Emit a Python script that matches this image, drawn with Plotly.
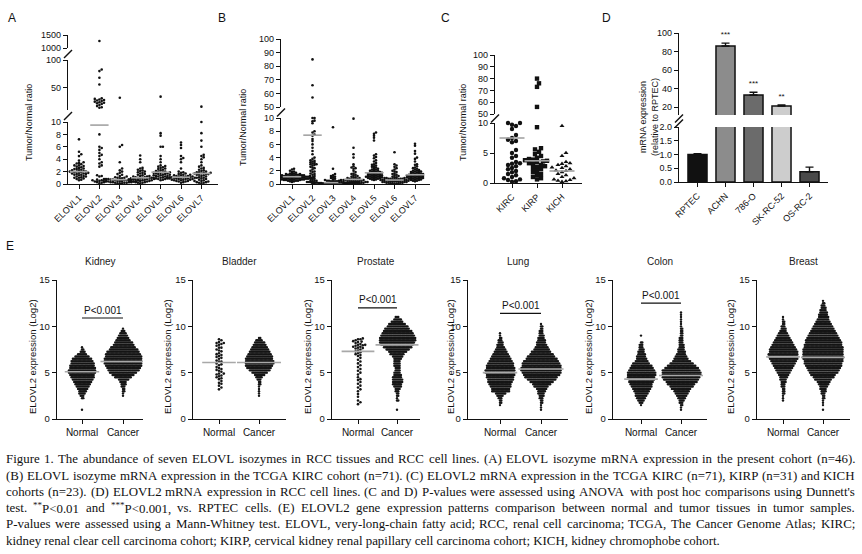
import re
import numpy as np
import plotly.graph_objects as go

W, H = 862, 554
SANS = "Liberation Sans, Arial, Helvetica, sans-serif"
SERIF = "Liberation Serif, Times New Roman, serif"

# ====================== DATA ======================
# ---- Panel A: present cohort (Tumor/Normal ratio) ----
A_CATS = ["ELOVL1", "ELOVL2", "ELOVL3", "ELOVL4", "ELOVL5", "ELOVL6", "ELOVL7"]
A_E1 = [7.2, 5.2, 4.8, 4.5, 3.8, 3.5, 3.4, 3.3, 3.2, 3.0, 3.0, 2.9, 2.8, 2.7, 2.6, 2.5, 2.4, 2.4, 2.3, 2.2,
        2.2, 2.1, 2.0, 2.0, 2.0, 1.9, 1.9, 1.8, 1.8, 1.7, 1.7, 1.6, 1.6, 1.5, 1.5, 1.4, 1.3, 1.2, 1.2, 1.1,
        1.0, 1.0, 0.9, 0.8, 0.7, 0.6]
A_E2 = [1270, 83, 80, 68, 56, 31, 30, 29, 28, 27, 26, 25, 24, 23, 22, 21, 19, 17, 15, 14,
        8.0, 6.0, 5.8, 5.5, 5.0, 4.7, 4.5, 4.0, 3.5, 3.3, 3.0, 2.8, 1.4, 1.3, 1.2, 0.8, 0.7, 0.6, 0.6, 0.5,
        0.5, 0.4, 0.3, 0.3, 0.2, 0.1]
A_E3 = [32, 6.3, 6.0, 3.5, 2.5, 2.2, 2.0, 1.8, 1.6, 1.5, 1.3, 1.2, 1.1, 1.0, 1.0, 0.9, 0.9, 0.8, 0.8, 0.8,
        0.7, 0.7, 0.7, 0.7, 0.6, 0.6, 0.6, 0.6, 0.5, 0.5, 0.5, 0.5, 0.4, 0.4, 0.4, 0.4, 0.3, 0.3, 0.3, 0.3,
        0.2, 0.2, 0.2, 0.1, 0.1, 0.1]
A_E4 = [4.6, 4.0, 3.5, 2.6, 2.5, 2.3, 2.2, 2.1, 2.0, 1.9, 1.8, 1.7, 1.6, 1.5, 1.4, 1.3, 1.3, 1.2, 1.2, 1.1,
        1.1, 1.0, 1.0, 1.0, 0.9, 0.9, 0.9, 0.8, 0.8, 0.8, 0.7, 0.7, 0.7, 0.6, 0.6, 0.6, 0.5, 0.5, 0.5, 0.4,
        0.4, 0.3, 0.3, 0.2, 0.2, 0.1]
A_E5 = [34, 8.2, 7.8, 6.0, 6.0, 4.5, 4.0, 3.5, 3.0, 2.9, 2.8, 2.7, 2.6, 2.5, 2.4, 2.3, 2.2, 2.1, 2.0, 2.0,
        1.9, 1.9, 1.8, 1.8, 1.7, 1.7, 1.6, 1.6, 1.5, 1.5, 1.4, 1.4, 1.3, 1.3, 1.2, 1.2, 1.1, 1.1, 1.0, 1.0,
        0.9, 0.9, 0.8, 0.8, 0.7, 0.6]
A_E6 = [6.7, 6.3, 5.8, 4.5, 4.2, 4.0, 3.5, 2.5, 2.0, 1.9, 1.8, 1.7, 1.6, 1.5, 1.5, 1.4, 1.4, 1.3, 1.3, 1.2,
        1.2, 1.2, 1.1, 1.1, 1.1, 1.0, 1.0, 1.0, 1.0, 0.9, 0.9, 0.9, 0.8, 0.8, 0.8, 0.7, 0.7, 0.7, 0.6, 0.6,
        0.5, 0.5, 0.4, 0.4, 0.3, 0.2]
A_E7 = [16, 10, 8.2, 7.0, 6.0, 4.7, 4.5, 4.3, 4.0, 3.5, 3.0, 2.8, 2.6, 2.5, 2.3, 2.2, 2.1, 2.0, 1.9, 1.9,
        1.8, 1.8, 1.7, 1.7, 1.6, 1.6, 1.5, 1.5, 1.4, 1.3, 1.2, 1.1, 1.0, 1.0, 0.9, 0.8, 0.7, 0.6, 0.5, 0.5,
        0.4, 0.3, 0.3, 0.2, 0.2, 0.1]
A_MED = [2.0, 9.5, 0.7, 1.0, 1.9, 1.1, 1.7]

# ---- Panel B: TCGA KIRC cohort ----
B_CATS = A_CATS
B_E1 = [2.3, 2.2, 2.0, 1.9, 1.8, 1.7, 1.6, 1.6, 1.5, 1.5, 1.5, 1.4, 1.4, 1.4, 1.4, 1.3, 1.3, 1.3, 1.3, 1.3,
        1.2, 1.2, 1.2, 1.2, 1.2, 1.2, 1.1, 1.1, 1.1, 1.1, 1.1, 1.1, 1.1, 1.0, 1.0, 1.0, 1.0, 1.0, 1.0, 1.0,
        1.0, 0.9, 0.9, 0.9, 0.9, 0.9, 0.9, 0.9, 0.9, 0.8, 0.8, 0.8, 0.8, 0.8, 0.8, 0.8, 0.7, 0.7, 0.7, 0.7,
        0.7, 0.6, 0.6, 0.6, 0.6, 0.5, 0.5, 0.5, 0.4, 0.4, 0.3]
B_E2 = [85, 66, 57, 10, 10, 9.6, 9.5, 9.2, 8.0, 7.8, 7.5, 7.3, 6.8, 6.5, 6.0, 5.5, 5.0, 4.5, 4.0, 3.8,
        3.6, 3.5, 3.4, 3.3, 3.2, 3.1, 3.0, 3.0, 2.9, 2.8, 2.6, 2.5, 2.4, 2.2, 2.0, 1.9, 1.8, 1.6, 1.5, 1.4,
        1.2, 1.0, 0.9, 0.8, 0.7, 0.6, 0.5, 0.5, 0.4, 0.3, 0.2, 0.1]
B_E3 = [8.6, 2.3, 1.5, 1.3, 1.2, 1.1, 1.0, 0.9, 0.8, 0.7, 0.6, 0.6, 0.5, 0.5, 0.5, 0.4, 0.4, 0.4, 0.4, 0.3,
        0.3, 0.3, 0.3, 0.3, 0.2, 0.2, 0.2, 0.2, 0.2, 0.2, 0.2, 0.15, 0.15, 0.15, 0.15, 0.1, 0.1, 0.1, 0.1,
        0.1, 0.1, 0.05, 0.05, 0.05, 0.05, 0.05]
B_E4 = [9.9, 5.5, 4.5, 4.0, 3.0, 2.7, 2.5, 2.4, 2.3, 2.0, 1.8, 1.6, 1.5, 1.4, 1.3, 1.2, 1.1, 1.0, 1.0, 0.9,
        0.9, 0.8, 0.8, 0.7, 0.7, 0.7, 0.6, 0.6, 0.6, 0.5, 0.5, 0.5, 0.5, 0.4, 0.4, 0.4, 0.4, 0.3, 0.3, 0.3,
        0.3, 0.3, 0.2, 0.2, 0.2, 0.2, 0.1, 0.1, 0.1, 0.1, 0.05, 0.05]
B_E5 = [7.8, 7.6, 7.3, 7.0, 6.6, 4.5, 4.3, 4.1, 3.9, 3.6, 3.4, 3.2, 3.0, 2.9, 2.8, 2.7, 2.6, 2.5, 2.4, 2.3,
        2.2, 2.2, 2.1, 2.0, 2.0, 1.9, 1.9, 1.8, 1.8, 1.7, 1.7, 1.7, 1.6, 1.6, 1.5, 1.5, 1.5, 1.4, 1.4, 1.3,
        1.3, 1.3, 1.2, 1.2, 1.2, 1.1, 1.1, 1.1, 1.0, 1.0, 1.0, 0.9, 0.9, 0.9, 0.8, 0.8, 0.7, 0.7, 0.6]
B_E6 = [4.8, 3.0, 2.8, 2.6, 2.4, 2.2, 2.0, 1.9, 1.8, 1.6, 1.5, 1.4, 1.3, 1.2, 1.1, 1.0, 1.0, 0.9, 0.9, 0.9,
        0.8, 0.8, 0.8, 0.8, 0.7, 0.7, 0.7, 0.7, 0.6, 0.6, 0.6, 0.6, 0.6, 0.5, 0.5, 0.5, 0.5, 0.5, 0.4, 0.4,
        0.4, 0.4, 0.4, 0.3, 0.3, 0.3, 0.3, 0.2, 0.2, 0.2, 0.2, 0.1, 0.1, 0.1, 0.05, 0.05]
B_E7 = [6.1, 5.8, 5.0, 4.6, 4.0, 3.8, 3.4, 3.0, 2.9, 2.7, 2.5, 2.4, 2.3, 2.2, 2.1, 2.0, 2.0, 1.9, 1.9, 1.8,
        1.8, 1.7, 1.7, 1.6, 1.6, 1.5, 1.5, 1.5, 1.4, 1.4, 1.4, 1.3, 1.3, 1.3, 1.2, 1.2, 1.2, 1.1, 1.1, 1.1,
        1.0, 1.0, 1.0, 0.9, 0.9, 0.9, 0.8, 0.8, 0.8, 0.7, 0.7, 0.6, 0.6, 0.5, 0.5, 0.4]
B_MED = [1.1, 7.4, 0.2, 0.7, 1.7, 0.6, 1.4]

# ---- Panel C: ELOVL2 in KIRC / KIRP / KICH ----
C_CATS = ["KIRC", "KIRP", "KICH"]
C_KIRC = [10, 10, 9.7, 9.5, 9.0, 8.0, 7.5, 7.2, 7.0, 6.8, 5.5, 5.0, 4.5, 4.2, 3.5, 3.3, 3.2, 3.0, 2.8, 2.5,
          2.3, 2.0, 1.8, 1.5, 1.3, 1.0, 0.8, 0.6, 0.5, 0.3, 0.2]
C_KIRP = [80, 76, 73, 56, 9.3, 5.8, 5.6, 5.2, 4.8, 4.5, 4.2, 4.0, 3.9, 3.8, 3.7, 3.6, 3.5, 3.3, 3.2, 3.0,
          2.8, 2.7, 2.5, 2.3, 2.0, 1.8, 1.5, 1.3, 1.0, 0.8, 0.6]
C_KICH = [9.5, 5.0, 4.5, 3.5, 3.3, 3.2, 3.0, 2.8, 2.6, 2.5, 2.3, 2.1, 2.0, 1.8, 1.5, 1.3, 1.0, 0.8, 0.6,
          0.5, 0.4, 0.3, 0.2]
C_MED = [7.5, 3.7, 2.0]

# ---- Panel D: ELOVL2 mRNA in cell lines ----
D_CATS = ["RPTEC", "ACHN", "786-O", "SK-RC-52", "OS-RC-2"]
D_VALS = [1.0, 86.0, 33.0, 21.0, 0.37]
D_ERR = [0.03, 3.0, 3.0, 1.2, 0.17]
D_STARS = ["", "***", "***", "**", ""]
D_COLORS = ["#111111", "#8c8c8c", "#6b6b6b", "#cdcdcd", "#4a4a4a"]

# ---- Panel E: ELOVL2 expression (Log2), Normal vs Cancer ----
E_TISSUES = ["Kidney", "Bladder", "Prostate", "Lung", "Colon", "Breast"]
E_GROUPS = ["Normal", "Cancer"]
# expression levels (Log2) and number of samples read at each level
LEVELS = [1.0, 1.25, 1.5, 1.75, 2.0, 2.25, 2.5, 2.75, 3.0, 3.25, 3.5, 3.75, 4.0, 4.25, 4.5, 4.75,
          5.0, 5.25, 5.5, 5.75, 6.0, 6.25, 6.5, 6.75, 7.0, 7.25, 7.5, 7.75, 8.0, 8.25, 8.5, 8.75,
          9.0, 9.25, 9.5, 9.75, 10.0, 10.25, 10.5, 10.75, 11.0, 11.25, 11.5, 11.75, 12.0, 12.25, 12.5, 12.75, 13.0]
KID_N = [1, 0, 0, 0,  0, 2, 3, 5,  6, 8, 10, 12,  14, 16, 18, 19,  21, 21, 20, 19,  18, 17, 15, 11,
         7, 4, 2, 1,  0, 0, 0, 0,  0, 0, 0, 0,  0, 0, 0, 0,  0, 0, 0, 0,  0, 0, 0, 0,  0]
KID_C = [0, 0, 0, 0,  0, 0, 1, 1,  2, 2, 3, 4,  5, 8, 13, 17,  21, 24, 26, 28,  29, 29, 29, 28,
         27, 25, 22, 19,  16, 14, 11, 9,  7, 5, 3, 1,  0, 0, 0, 0,  0, 0, 0, 0,  0, 0, 0, 0,  0]
BLA_N = [8.6, 8.5, 8.3, 8.2, 8.2, 8.0, 7.9, 7.7, 7.7, 7.5, 7.3, 7.1, 7.0, 6.9, 6.8, 6.6, 6.5, 6.3, 6.2, 6.2,
         6.0, 5.9, 5.8, 5.6, 5.5, 5.4, 5.2, 5.1, 4.9, 4.8, 4.7, 4.5, 4.4, 4.3, 4.1, 3.9, 3.8, 3.6, 3.4, 3.2,
         7.4, 6.7, 5.3, 4.6, 8.1, 4.9]
BLA_C = [0, 0, 0, 0,  0, 0, 1, 1,  1, 1, 1, 2,  2, 3, 5, 8,  12, 16, 19, 21,  22, 22, 21, 20,
         18, 16, 14, 12,  10, 8, 5, 2,  0, 0, 0, 0,  0, 0, 0, 0,  0, 0, 0, 0,  0, 0, 0, 0,  0]
PRO_N = [8.7, 8.6, 8.6, 8.5, 8.4, 8.35, 8.3, 8.2, 8.1, 8.0, 8.0, 7.95, 7.9, 7.8, 7.8, 7.7, 7.65, 7.6, 7.5,
         7.4, 7.3, 7.2, 7.1, 7.0, 6.9, 6.8, 6.6, 6.4, 6.2, 6.0, 5.8, 5.6, 5.4, 5.2, 5.0, 4.8, 4.5, 4.3, 4.2,
         4.0, 3.8, 3.6, 3.4, 3.2, 3.0, 2.7, 2.4, 2.0, 1.8, 1.6]
PRO_C = [1, 0, 0, 0,  2, 1, 2, 2,  3, 4, 6, 7,  8, 8, 7, 6,  5, 4, 4, 5,  5, 5, 6, 8,
         11, 14, 18, 22,  25, 27, 28, 28,  26, 24, 22, 19,  16, 13, 9, 6,  3, 0, 0, 0,  0, 0, 0, 0,  0]
LUN_N = [0, 0, 1, 2,  2, 3, 5, 8,  14, 14, 16, 17,  19, 20, 21, 22,  23, 23, 22, 21,  20, 18, 16, 14,
         12, 10, 8, 6,  5, 4, 3, 2,  1, 1, 0, 0,  0, 0, 0, 0,  0, 0, 0, 0,  0, 0, 0, 0,  0]
LUN_C = [1, 1, 1, 2,  2, 3, 4, 5,  6, 8, 11, 14,  18, 22, 25, 28,  30, 31, 31, 30,  29, 27, 24, 21,
         18, 15, 12, 10,  8, 7, 6, 5,  4, 3, 3, 2,  2, 1, 0, 0,  0, 0, 0, 0,  0, 0, 0, 0,  0]
COL_N = [0, 0, 1, 3,  5, 7, 9, 10,  12, 14, 16, 17,  19, 20, 21, 22,  22, 20, 18, 16,  13, 10, 8, 7,
         6, 5, 4, 3,  3, 2, 0, 0,  1, 0, 0, 0,  0, 0, 0, 0,  0, 0, 0, 0,  0, 0, 0, 0,  0]
COL_C = [1, 1, 2, 3,  4, 6, 8, 10,  12, 15, 18, 21,  24, 27, 29, 30,  30, 29, 26, 22,  18, 14, 11, 9,
         7, 6, 5, 4,  4, 3, 3, 3,  2, 2, 2, 2,  1, 1, 1, 1,  1, 1, 1, 0,  0, 0, 0, 0,  0]
BRE_N = [0, 0, 0, 0,  1, 1, 1, 2,  2, 2, 3, 3,  4, 5, 6, 8,  10, 12, 14, 16,  18, 20, 22, 23,
         23, 22, 21, 19,  17, 15, 13, 11,  9, 7, 5, 4,  3, 2, 2, 1,  1, 0, 0, 0,  0, 0, 0, 0,  0]
BRE_C = [1, 0, 1, 1,  1, 2, 2, 3,  4, 5, 6, 8,  10, 13, 16, 19,  22, 24, 26, 28,  29, 30, 31, 31,
         31, 31, 31, 30,  29, 28, 27, 25,  23, 21, 19, 17,  15, 13, 11, 9,  8, 7, 6, 5,  4, 3, 2, 1,  0]
E_MED = [[5.1, 6.2], [6.1, 6.1], [7.3, 8.0], [5.0, 5.4], [4.3, 4.7], [6.7, 6.65]]
E_PBAR = [10.9, None, 12.0, 11.4, 12.5, None]
E_PTXT = [11.75, None, 12.85, 12.25, 13.35, None]

CAPTION = [
    "Figure 1. The abundance of seven ELOVL isozymes in RCC tissues and RCC cell lines. (A) ELOVL isozyme mRNA expression in the present cohort (n=46).",
    "(B) ELOVL isozyme mRNA expression in the TCGA KIRC cohort (n=71). (C) ELOVL2 mRNA expression in the TCGA KIRC (n=71), KIRP (n=31) and KICH",
    "cohorts (n=23). (D) ELOVL2 mRNA expression in RCC cell lines. (C and D) P-values were assessed using ANOVA with post hoc comparisons using Dunnett's",
    "test. <sup>**</sup>P&lt;0.01 and <sup>***</sup>P&lt;0.001, vs. RPTEC cells. (E) ELOVL2 gene expression patterns comparison between normal and tumor tissues in tumor samples.",
    "P-values were assessed using a Mann-Whitney test. ELOVL, very-long-chain fatty acid; RCC, renal cell carcinoma; TCGA, The Cancer Genome Atlas; KIRC;",
    "kidney renal clear cell carcinoma cohort; KIRP, cervical kidney renal papillary cell carcinoma cohort; KICH, kidney chromophobe cohort.",
]
CAP_JUSTIFY = [True, True, True, True, True, False]

# Times-compatible glyph advance widths (1/1000 em), used to justify the caption
_GLYPHS = " !\"#$%&'()*+,-./0123456789:;<=>?ABCDEFGHIJKLMNOPQRSTUVWXYZ[]abcdefghijklmnopqrstuvwxyz"
_ADV = [250, 333, 408, 500, 500, 833, 778, 180, 333, 333, 500, 564, 250, 333, 250, 278,
        500, 500, 500, 500, 500, 500, 500, 500, 500, 500, 278, 278, 564, 564, 564, 444,
        722, 667, 667, 722, 611, 556, 722, 722, 333, 389, 722, 611, 889, 722, 722, 556, 722, 667, 556, 611,
        722, 722, 944, 722, 722, 611, 333, 333,
        444, 500, 444, 500, 444, 333, 500, 500, 278, 278, 500, 278, 778, 500, 500, 500, 500, 333, 389, 278,
        500, 500, 722, 500, 500, 444]
ADV = dict(zip(_GLYPHS, _ADV))

# ====================== HELPERS ======================
fig = go.Figure()
layout = {}
shapes = []
annos = []
n_ax = [0]


def px(x):
    return x / W


def py(y):
    return 1 - y / H


def new_axes(xd, yd, xr, yr, xkw=None, ykw=None):
    n_ax[0] += 1
    i = n_ax[0]
    s = "" if i == 1 else str(i)
    base = dict(showgrid=False, zeroline=False, showline=True, linecolor="#111", linewidth=1.4,
                ticks="outside", ticklen=4, tickwidth=1.2, tickcolor="#111", automargin=False,
                tickfont=dict(family=SANS, size=9, color="#111"), fixedrange=True)
    xa = dict(base, domain=[px(xd[0]), px(xd[1])], range=xr, anchor="y" + s)
    ya = dict(base, domain=[py(yd[1]), py(yd[0])], range=yr, anchor="x" + s)
    if xkw:
        xa.update(xkw)
    if ykw:
        ya.update(ykw)
    layout["xaxis" + s] = xa
    layout["yaxis" + s] = ya
    return "x" + s, "y" + s


def swarm(vals, ky, kx, d):
    """Beeswarm offsets (category units) for values; ky, kx in px per unit."""
    y = np.asarray(vals, float) * ky
    n = len(y)
    out = np.zeros(n)
    if n == 0:
        return out
    order = np.argsort(y, kind="stable")
    PX = np.empty(n)
    PY = np.empty(n)
    m = 0
    step = d / 2.0
    d2 = d * d * 0.98
    for i in order:
        yi = y[i]
        if m:
            near = np.abs(PY[:m] - yi) < d
            cx = PX[:m][near]
            cy = PY[:m][near] - yi
        else:
            cx = cy = np.empty(0)
        k = 0
        pos = 0.0
        while True:
            found = False
            for c in ((0.0,) if k == 0 else (k * step, -k * step)):
                if cx.size == 0 or np.all((cx - c) ** 2 + cy ** 2 >= d2):
                    pos = c
                    found = True
                    break
            if found:
                break
            k += 1
        out[i] = pos
        PX[m] = pos
        PY[m] = yi
        m += 1
    return out / kx


def text(t, x, y, size=9, angle=0, xanchor="center", yanchor="middle", family=SANS, color="#111"):
    annos.append(dict(text=t, x=px(x), y=py(y), xref="paper", yref="paper", showarrow=False,
                      textangle=angle, xanchor=xanchor, yanchor=yanchor,
                      font=dict(family=family, size=size, color=color)))


def word_width(wd, size):
    total = 0.0
    for part in re.split(r"(<sup>.*?</sup>)", wd):
        f = 1.0
        if part.startswith("<sup>"):
            part = part[5:-6]
            f = 0.7
        part = part.replace("&lt;", "<")
        total += sum(ADV.get(c, 500) for c in part) * f
    return total * size / 1000.0


def slash(x, y, double=False):
    offs = [-2.5, 2.5] if double else [0]
    for o in offs:
        shapes.append(dict(type="line", xref="paper", yref="paper",
                           x0=px(x - 4), y0=py(y + 4 + o), x1=px(x + 4), y1=py(y - 4 + o),
                           line=dict(color="#111", width=1.4)))


def seg_panel(ax_px, end_px, cat0_px, cat_step, segs, cats, groups, meds, symbols, msize, d, med_hw):
    xr = [(ax_px - cat0_px) / cat_step, (end_px - cat0_px) / cat_step]
    refs = []
    for j, sg in enumerate(segs):
        top, bot = sg["dom"]
        lo, hi = sg["range"]
        if j == 0:
            xkw = dict(tickvals=list(range(len(cats))), ticktext=cats, tickangle=-45)
        else:
            xkw = dict(visible=False)
        ykw = dict(tickvals=sg["ticks"])
        if "labels" in sg:
            ykw["ticktext"] = sg["labels"]
        refs.append(new_axes((ax_px, end_px), (top, bot), xr, [lo, hi], xkw, ykw))
    for i, vals in enumerate(groups):
        v = np.asarray(vals, float)
        segidx = np.full(len(v), len(segs) - 1)
        for j in range(len(segs) - 1, -1, -1):
            segidx[v <= segs[j]["range"][1]] = j
        for j, sg in enumerate(segs):
            vv = v[segidx == j]
            if vv.size == 0:
                continue
            top, bot = sg["dom"]
            lo, hi = sg["range"]
            ky = (bot - top) / (hi - lo)
            off = swarm(vv - lo, ky, cat_step, d)
            fig.add_trace(go.Scatter(x=i + off, y=vv, mode="markers", xaxis=refs[j][0], yaxis=refs[j][1],
                                     marker=dict(size=msize, color="#111", symbol=symbols[i], line=dict(width=0)),
                                     cliponaxis=False, hoverinfo="skip"))
        m = meds[i]
        j = len(segs) - 1
        for jj in range(len(segs)):
            if m <= segs[jj]["range"][1]:
                j = jj
                break
        fig.add_trace(go.Scatter(x=[i - med_hw, i + med_hw], y=[m, m], mode="lines",
                                 xaxis=refs[j][0], yaxis=refs[j][1],
                                 line=dict(color="#a3a3a3", width=1.6), cliponaxis=False, hoverinfo="skip"))
    for j in range(len(segs) - 1):
        slash(ax_px, (segs[j]["dom"][0] + segs[j + 1]["dom"][1]) / 2)
    return refs


# ====================== PANEL A ======================
seg_panel(68, 218, 79, 20.4,
          [dict(dom=(122, 184), range=(0, 10), ticks=[0, 2, 4, 6, 8, 10]),
           dict(dom=(60, 110), range=(10, 100), ticks=[50, 100]),
           dict(dom=(35, 48), range=(1000, 1500), ticks=[1000, 1500])],
          A_CATS, [A_E1, A_E2, A_E3, A_E4, A_E5, A_E6, A_E7], A_MED,
          ["circle"] * 7, 2.6, 2.3, 0.45)
text("A", 12, 18, size=12)
text("Tumor/Normal ratio", 29, 123, size=9, angle=-90)

# ====================== PANEL B ======================
seg_panel(281, 430, 292, 20.5,
          [dict(dom=(118, 184), range=(0, 10), ticks=[0, 2, 4, 6, 8, 10]),
           dict(dom=(39, 107), range=(50, 100), ticks=[50, 60, 70, 80, 90, 100])],
          B_CATS, [B_E1, B_E2, B_E3, B_E4, B_E5, B_E6, B_E7], B_MED,
          ["circle"] * 7, 2.6, 2.0, 0.45)
text("B", 222, 18, size=12)
text("Tumor/Normal ratio", 243, 127, size=9, angle=-90)

# ====================== PANEL C ======================
seg_panel(495, 582, 512, 25,
          [dict(dom=(123, 183), range=(0, 10), ticks=[0, 5, 10]),
           dict(dom=(55, 114), range=(50, 100), ticks=[50, 60, 70, 80, 90, 100])],
          C_CATS, [C_KIRC, C_KIRP, C_KICH], C_MED,
          ["circle", "square", "triangle-up"], 4.4, 4.0, 0.5)
text("C", 445, 18, size=12)
text("Tumor/Normal ratio", 463, 123, size=9, angle=-90)

# ====================== PANEL D ======================
d_ax, d_end, d_c0, d_st = 679, 828, 697.5, 28
d_xr = [(d_ax - d_c0) / d_st, (d_end - d_c0) / d_st]
d_segs = [dict(dom=(127, 182), range=(0, 2.0), ticks=[0, 0.5, 1.0, 1.5, 2.0],
               labels=["0.0", "0.5", "1.0", "1.5", "2.0"]),
          dict(dom=(33, 115), range=(11.35, 100), ticks=[20, 40, 60, 80, 100])]
d_refs = []
for j, sg in enumerate(d_segs):
    xkw = dict(tickvals=list(range(len(D_CATS))), ticktext=D_CATS, tickangle=-45) if j == 0 else dict(visible=False)
    ykw = dict(tickvals=sg["ticks"])
    if "labels" in sg:
        ykw["ticktext"] = sg["labels"]
    d_refs.append(new_axes((d_ax, d_end), sg["dom"], d_xr, list(sg["range"]), xkw, ykw))
idx = list(range(len(D_CATS)))
for j, sg in enumerate(d_segs):
    xa, ya = d_refs[j]
    fig.add_trace(go.Bar(x=idx, y=D_VALS, width=0.68, xaxis=xa, yaxis=ya,
                         marker=dict(color=D_COLORS, line=dict(color="#111", width=1.5)), hoverinfo="skip"))
    lo, hi = sg["range"]
    sel = [i for i in idx if lo < D_VALS[i] <= hi]
    if sel:
        fig.add_trace(go.Scatter(x=sel, y=[D_VALS[i] for i in sel], mode="markers",
                                 xaxis=xa, yaxis=ya, marker=dict(size=1, opacity=0),
                                 error_y=dict(type="data", symmetric=False, array=[D_ERR[i] for i in sel],
                                              arrayminus=[0] * len(sel), color="#111", thickness=1.4, width=4),
                                 cliponaxis=False, hoverinfo="skip"))
    sel_s = [i for i in sel if D_STARS[i]]
    if sel_s:
        fig.add_trace(go.Scatter(x=sel_s, y=[D_VALS[i] + D_ERR[i] + 9 for i in sel_s], mode="text",
                                 text=[D_STARS[i] for i in sel_s], textposition="middle center",
                                 textfont=dict(family=SANS, size=8, color="#111"),
                                 xaxis=xa, yaxis=ya, cliponaxis=False, hoverinfo="skip"))
slash(d_ax, 121, double=True)
text("D", 606, 18, size=12)
text("mRNA expression", 643, 117, size=9, angle=-90)
text("(relative to RPTEC)", 655, 117, size=9, angle=-90)

# ====================== PANEL E ======================
E_AX = [57, 193, 332, 468, 613, 757]
E_NORM = [82, 219, 358, 500, 641, 783]
E_CANC = [123, 259, 397, 541, 681, 823]
E_END = [143, 286, 420, 568, 707, 850]
E_YT = [32, 167, 307, 450, 588, 730]
E_DATA = [
    (np.repeat(LEVELS, KID_N), np.repeat(LEVELS, KID_C)),
    (np.asarray(BLA_N), np.repeat(LEVELS, BLA_C)),
    (np.asarray(PRO_N), np.repeat(LEVELS, PRO_C)),
    (np.repeat(LEVELS, LUN_N), np.repeat(LEVELS, LUN_C)),
    (np.repeat(LEVELS, COL_N), np.repeat(LEVELS, COL_C)),
    (np.repeat(LEVELS, BRE_N), np.repeat(LEVELS, BRE_C)),
]
E_SPARSE = [(False, False), (True, False), (True, False), (False, False), (False, False), (False, False)]
e_top, e_bot = 280, 419
ky_e = (e_bot - e_top) / 15.0
for t in range(6):
    sp = E_CANC[t] - E_NORM[t]
    xr = [(E_AX[t] - E_NORM[t]) / sp, (E_END[t] - E_NORM[t]) / sp]
    xa, ya = new_axes((E_AX[t], E_END[t]), (e_top, e_bot), xr, [0, 15],
                      dict(tickvals=[0, 1], ticktext=E_GROUPS, tickfont=dict(family=SANS, size=10, color="#111")),
                      dict(tickvals=[0, 5, 10, 15], tickfont=dict(family=SANS, size=9.5, color="#111")))
    for g in range(2):
        vals = E_DATA[t][g]
        sparse = E_SPARSE[t][g]
        dd = 2.4 if sparse else 1.3
        off = swarm(vals, ky_e, sp, dd)
        fig.add_trace(go.Scatter(x=g + off, y=vals, mode="markers", xaxis=xa, yaxis=ya,
                                 marker=dict(size=2.6 if sparse else 2.4, color="#151515", line=dict(width=0)),
                                 cliponaxis=False, hoverinfo="skip"))
    for g in range(2):
        hw = 0.42 if g == 0 else 0.55
        m = E_MED[t][g]
        fig.add_trace(go.Scatter(x=[g - hw, g + hw], y=[m, m], mode="lines", xaxis=xa, yaxis=ya,
                                 line=dict(color="#a8a8a8", width=1.6), cliponaxis=False, hoverinfo="skip"))
    if E_PBAR[t] is not None:
        fig.add_trace(go.Scatter(x=[0, 1], y=[E_PBAR[t], E_PBAR[t]], mode="lines", xaxis=xa, yaxis=ya,
                                 line=dict(color="#111", width=1.2), cliponaxis=False, hoverinfo="skip"))
        annos.append(dict(text="P&lt;0.001", x=0.5, y=E_PTXT[t], xref=xa, yref=ya, showarrow=False,
                          font=dict(family=SANS, size=10, color="#111")))
    text(E_TISSUES[t], (E_AX[t] + E_END[t]) / 2, 261, size=10, color="#222")
    text("ELOVL2 expression (Log2)", E_YT[t], 357, size=9.5, angle=-90)
text("E", 10, 246, size=12)

# ====================== CAPTION (justified) ======================
CAP_Y = [459, 475.5, 491.5, 508, 524, 540.5]
CAP_SIZE = 12.9
CAP_L, CAP_R = 4, 853
for line, yy, just in zip(CAPTION, CAP_Y, CAP_JUSTIFY):
    if not just:
        text(line, CAP_L, yy, size=CAP_SIZE, xanchor="left", family=SERIF)
        continue
    words = line.split(" ")
    widths = [word_width(w, CAP_SIZE) for w in words]
    gap = (CAP_R - CAP_L - sum(widths)) / (len(words) - 1)
    x = CAP_L
    for w, wd in zip(words, widths):
        text(w, x, yy, size=CAP_SIZE, xanchor="left", family=SERIF)
        x += wd + gap

layout.update(dict(template="none", width=W, height=H, margin=dict(l=0, r=0, t=0, b=0, pad=0),
                   showlegend=False, paper_bgcolor="white", plot_bgcolor="white",
                   shapes=shapes, annotations=annos, bargap=0.3))
fig.update_layout(layout)
fig.write_html("out.html")
